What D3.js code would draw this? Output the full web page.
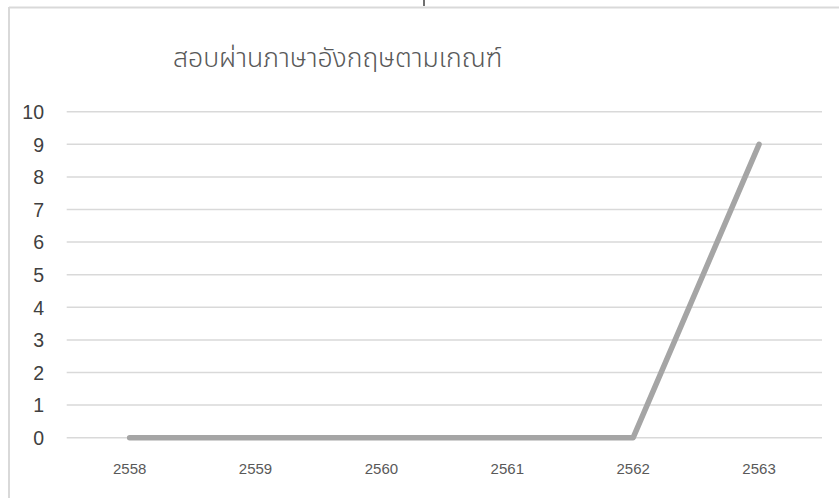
<!DOCTYPE html>
<html>
<head>
<meta charset="utf-8">
<script src="https://cdn.jsdelivr.net/npm/d3@7"></script>
<style>
  html, body { margin: 0; padding: 0; background: #fff; }
  svg { display: block; }
</style>
</head>
<body>
<svg id="chart" width="839" height="498"></svg>
<script>
const title = "สอบผ่านภาษาอังกฤษตามเกณฑ์";
const years = ["2558", "2559", "2560", "2561", "2562", "2563"];
const passed = [0, 0, 0, 0, 0, 9];
const yTicks = [0, 1, 2, 3, 4, 5, 6, 7, 8, 9, 10];

const svg = d3.select("#chart");
const W = 839, H = 498;

// chart frame (top + left edges visible)
svg.append("line").attr("x1", 9).attr("x2", W).attr("y1", 7.5).attr("y2", 7.5)
  .attr("stroke", "#d9d9d9").attr("stroke-width", 2);
svg.append("line").attr("x1", 9).attr("x2", 9).attr("y1", 7).attr("y2", H)
  .attr("stroke", "#d9d9d9").attr("stroke-width", 2);
// small cut-off mark above frame
svg.append("line").attr("x1", 424).attr("x2", 424).attr("y1", 0).attr("y2", 6)
  .attr("stroke", "#404040").attr("stroke-width", 1.5);

const x = d3.scaleBand().domain(years).range([66.7, 822]);
const y = d3.scaleLinear().domain([0, 10]).range([437.7, 111.7]);

// gridlines
svg.append("g").selectAll("line").data(yTicks).join("line")
  .attr("x1", 66.7).attr("x2", 822)
  .attr("y1", d => y(d)).attr("y2", d => y(d))
  .attr("stroke", "#d9d9d9").attr("stroke-width", 1.5);

// y axis labels
const yAxis = d3.axisLeft(y).tickValues(yTicks).tickSize(0).tickPadding(0);
const gy = svg.append("g").attr("transform", "translate(44,0)").call(yAxis);
gy.select(".domain").remove();
gy.selectAll("text")
  .attr("font-family", "Liberation Sans, Arial, sans-serif")
  .attr("font-size", 19.5).attr("fill", "#404040").attr("dy", "0.35em");

// x axis labels
const xAxis = d3.axisBottom(x).tickSize(0).tickPadding(0);
const gx = svg.append("g").attr("transform", "translate(0,463)").call(xAxis);
gx.select(".domain").remove();
gx.selectAll("text")
  .attr("font-family", "Liberation Sans, Arial, sans-serif")
  .attr("font-size", 15).attr("fill", "#595959").attr("dy", "0.71em");

// line
const line = d3.line()
  .x((d, i) => x(years[i]) + x.bandwidth() / 2)
  .y(d => y(d));
svg.append("path").datum(passed)
  .attr("d", line)
  .attr("fill", "none")
  .attr("stroke", "#a5a5a5")
  .attr("stroke-width", 5.5)
  .attr("stroke-linecap", "round")
  .attr("stroke-linejoin", "round");

// title
svg.append("text")
  .attr("x", 173).attr("y", 67)
  .attr("font-family", "'Noto Sans Thai', 'Noto Sans', 'DejaVu Sans', sans-serif")
  .attr("font-size", 26.6)
  .attr("font-weight", 300)
  .attr("fill", "#595959")
  .text(title);
</script>
</body>
</html>
